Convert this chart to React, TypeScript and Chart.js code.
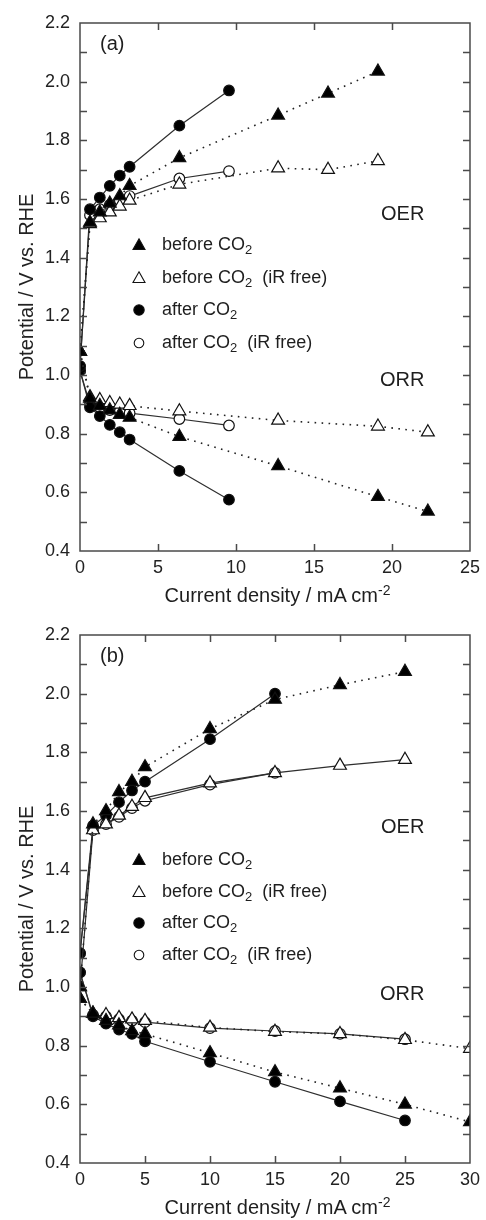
import React, { useEffect, useRef, useState } from "react";
import { Chart, registerables } from "chart.js";
Chart.register(...registerables);

// ---------- Panel (a) data ----------
const aOerBeforeX = [0, 0.64, 1.27, 1.91, 2.55, 3.18, 6.37, 12.7, 15.9, 19.1];
const aOerBeforeY = [1.08, 1.52, 1.555, 1.585, 1.61, 1.645, 1.74, 1.885, 1.96, 2.035];
const aOerBeforeIrY = [1.08, 1.515, 1.535, 1.555, 1.575, 1.595, 1.65, 1.705, 1.7, 1.73];
const aOerAfterX = [0, 0.64, 1.27, 1.91, 2.55, 3.18, 6.37, 9.55];
const aOerAfterY = [1.03, 1.565, 1.605, 1.645, 1.68, 1.71, 1.85, 1.97];
const aOerAfterIrY = [1.03, 1.545, 1.565, 1.58, 1.595, 1.61, 1.67, 1.695];
const aOrrBeforeX = [0, 0.64, 1.27, 1.91, 2.55, 3.18, 6.37, 12.7, 19.1, 22.3];
const aOrrBeforeY = [1.08, 0.92, 0.895, 0.88, 0.865, 0.855, 0.79, 0.69, 0.585, 0.535];
const aOrrBeforeIrY = [1.08, 0.925, 0.915, 0.905, 0.9, 0.895, 0.877, 0.845, 0.825, 0.805];
const aOrrAfterX = [0, 0.64, 1.27, 1.91, 2.55, 3.18, 6.37, 9.55];
const aOrrAfterY = [1.015, 0.89, 0.86, 0.83, 0.805, 0.78, 0.673, 0.575];
const aOrrAfterIrY = [1.015, 0.9, 0.89, 0.88, 0.875, 0.87, 0.85, 0.828];

// ---------- Panel (b) data ----------
const bOerBeforeX = [0, 1, 2, 3, 4, 5, 10, 15, 20, 25];
const bOerBeforeY = [1.0, 1.555, 1.6, 1.665, 1.7, 1.75, 1.88, 1.98, 2.03, 2.075];
const bOerBeforeIrY = [1.0, 1.535, 1.555, 1.585, 1.615, 1.645, 1.695, 1.73, 1.755, 1.775];
const bOerAfterX = [0, 1, 2, 3, 4, 5, 10, 15];
const bOerAfterY = [1.115, 1.55, 1.585, 1.63, 1.67, 1.7, 1.845, 2.0];
const bOerAfterIrY = [1.115, 1.535, 1.555, 1.58, 1.61, 1.635, 1.69, 1.73];
const bOrrBeforeX = [0, 1, 2, 3, 4, 5, 10, 15, 20, 25, 30];
const bOrrBeforeY = [0.96, 0.91, 0.885, 0.87, 0.85, 0.84, 0.775, 0.71, 0.655, 0.6, 0.54];
const bOrrBeforeIrY = [0.96, 0.91, 0.905, 0.895, 0.89, 0.885, 0.862, 0.848, 0.84, 0.82, 0.79];
const bOrrAfterX = [0, 1, 2, 3, 4, 5, 10, 15, 20, 25];
const bOrrAfterY = [1.05, 0.9, 0.875, 0.855, 0.84, 0.815, 0.745, 0.677, 0.61, 0.545];
const bOrrAfterIrY = [1.05, 0.905, 0.9, 0.89, 0.885, 0.88, 0.86, 0.85, 0.84, 0.822];

const yMin = 0.4;
const yMax = 2.2;
const yStep = 0.2;
const yMinorStep = 0.1;
const xStep = 5;
const aXMax = 25;
const bXMax = 30;

const seriesLabels = ["before CO", "before CO", "after CO", "after CO"];
const seriesSuffix = ["", "  (iR free)", "", "  (iR free)"];

const FONT = '"Liberation Sans", Arial, Helvetica, sans-serif';
const DOT = [1.6, 5.4];

type Kind = "before" | "beforeIr" | "after" | "afterIr";

function pts(xs: number[], ys: number[]) {
  return xs.map((x, i) => ({ x, y: ys[i] }));
}

function ds(kind: Kind, xs: number[], ys: number[], dotted: boolean) {
  const tri = kind === "before" || kind === "beforeIr";
  const filled = kind === "before" || kind === "after";
  return {
    data: pts(xs, ys),
    showLine: true,
    borderColor: dotted ? "#222222" : "#2e2e2e",
    borderWidth: dotted ? 1.6 : 1.2,
    borderDash: dotted ? DOT : [],
    borderCapStyle: "butt",
    pointStyle: tri ? "triangle" : "circle",
    pointRadius: tri ? 7.4 : 5.3,
    pointBorderWidth: 1.2,
    pointBorderColor: "#111111",
    pointBackgroundColor: filled ? "#000000" : "#ffffff",
    pointHoverRadius: tri ? 7.4 : 5.3,
    tension: 0,
  };
}

const framePlugin = {
  id: "frameTicks",
  afterDraw(chart: any) {
    const ctx = chart.ctx;
    const a = chart.chartArea;
    const xs = chart.scales.x;
    const ys = chart.scales.y;
    const L = 7;
    ctx.save();
    ctx.strokeStyle = "#4a4a4a";
    ctx.lineWidth = 1.5;
    ctx.beginPath();
    for (let v = yMin + yMinorStep; v < yMax - 1e-6; v += yMinorStep) {
      const p = Math.round(ys.getPixelForValue(v)) + 0.5;
      ctx.moveTo(a.left, p);
      ctx.lineTo(a.left + L, p);
      ctx.moveTo(a.right, p);
      ctx.lineTo(a.right - L, p);
    }
    for (let v = xs.min + xStep; v < xs.max - 1e-6; v += xStep) {
      const p = Math.round(xs.getPixelForValue(v)) + 0.5;
      ctx.moveTo(p, a.bottom);
      ctx.lineTo(p, a.bottom - L);
      ctx.moveTo(p, a.top);
      ctx.lineTo(p, a.top + L);
    }
    ctx.stroke();
    ctx.strokeRect(a.left, a.top, a.right - a.left, a.bottom - a.top);
    ctx.restore();
  },
};

function ChartPanel({ top, xMax, datasets }: { top: number; xMax: number; datasets: any[] }) {
  const ref = useRef<HTMLCanvasElement | null>(null);
  const [err, setErr] = useState("");
  useEffect(() => {
    if (!ref.current) return;
    let chart: any = null;
    try {
      chart = new Chart(ref.current, {
        type: "scatter",
        data: { datasets },
        plugins: [framePlugin],
        options: {
          animation: false,
          responsive: false,
          layout: { padding: { top: 23, right: 11, left: 0, bottom: 19 } },
          plugins: { legend: { display: false }, tooltip: { enabled: false } },
          scales: {
            x: {
              type: "linear",
              min: 0,
              max: xMax,
              grid: { display: false, drawTicks: false },
              border: { display: false },
              ticks: {
                stepSize: xStep,
                padding: 6,
                color: "#222",
                font: { family: FONT, size: 18 },
                maxRotation: 0,
              },
              afterFit: (s: any) => {
                s.height = 30;
              },
            },
            y: {
              type: "linear",
              min: yMin,
              max: yMax,
              grid: { display: false, drawTicks: false },
              border: { display: false },
              ticks: {
                stepSize: yStep,
                padding: 10,
                color: "#222",
                font: { family: FONT, size: 18 },
                callback: (v: any) => Number(v).toFixed(1),
              },
              title: {
                display: true,
                text: "Potential / V vs. RHE",
                color: "#222",
                font: { family: FONT, size: 20 },
                padding: { top: 15, bottom: 0 },
              },
              afterFit: (s: any) => {
                s.width = 80;
              },
            },
          },
        } as any,
      });
    } catch (e: any) {
      setErr(String(e && e.stack ? e.stack : e));
    }
    return () => {
      if (chart) chart.destroy();
    };
  }, []);
  return (
    <div style={{ position: "absolute", left: 0, top, width: 486, height: 600 }}>
      <canvas ref={ref} width={486} height={600} style={{ display: "block" }} />
      {err ? <pre style={{ position: "absolute", left: 0, top: 0, fontSize: 10, whiteSpace: "pre-wrap", width: 480 }}>{err}</pre> : null}
    </div>
  );
}

function Marker({ kind }: { kind: Kind }) {
  const tri = kind === "before" || kind === "beforeIr";
  const filled = kind === "before" || kind === "after";
  return (
    <svg width={16} height={16} style={{ position: "absolute", left: -8, top: -8 }}>
      {tri ? (
        <polygon
          points="8,1.8 14,12.5 2,12.5"
          fill={filled ? "#000" : "#fff"}
          stroke="#111"
          strokeWidth={1.1}
        />
      ) : (
        <circle cx={8} cy={8} r={filled ? 5.2 : 4.8} fill={filled ? "#000" : "#fff"} stroke="#111" strokeWidth={1.1} />
      )}
    </svg>
  );
}

const kinds: Kind[] = ["before", "beforeIr", "after", "afterIr"];

function Overlay({ top, letter, legendRows, oerY, orrY }: { top: number; letter: string; legendRows: number[]; oerY: number; orrY: number }) {
  const base: any = {
    position: "absolute",
    fontFamily: FONT,
    color: "#1e1e1e",
    whiteSpace: "nowrap",
    lineHeight: "22px",
  };
  return (
    <>
      <div style={{ ...base, left: 100, top: top + 32, fontSize: 20 }}>{letter}</div>
      <div style={{ ...base, left: 381, top: top + oerY - 11, fontSize: 20 }}>OER</div>
      <div style={{ ...base, left: 380, top: top + orrY - 11, fontSize: 20 }}>ORR</div>
      {kinds.map((k, i) => (
        <React.Fragment key={k}>
          <div style={{ position: "absolute", left: 139, top: top + legendRows[i], width: 0, height: 0 }}>
            <Marker kind={k} />
          </div>
          <div style={{ ...base, left: 162, top: top + legendRows[i] - 12, fontSize: 18 }}>
            {seriesLabels[i]}
            <sub style={{ fontSize: 13, verticalAlign: "-4px", lineHeight: 0 }}>2</sub>
            {seriesSuffix[i] ? <span style={{ whiteSpace: "pre" }}>{seriesSuffix[i]}</span> : null}
          </div>
        </React.Fragment>
      ))}
      <div style={{ ...base, left: 80, width: 395, textAlign: "center", top: top + 584, fontSize: 20 }}>
        Current density / mA cm<sup style={{ fontSize: 14, verticalAlign: "7px", lineHeight: 0 }}>-2</sup>
      </div>
    </>
  );
}

export default function App() {
  const aSets = [
    ds("before", aOerBeforeX, aOerBeforeY, true),
    ds("before", aOrrBeforeX, aOrrBeforeY, true),
    ds("beforeIr", aOerBeforeX, aOerBeforeIrY, true),
    ds("beforeIr", aOrrBeforeX, aOrrBeforeIrY, true),
    ds("after", aOerAfterX, aOerAfterY, false),
    ds("after", aOrrAfterX, aOrrAfterY, false),
    ds("afterIr", aOerAfterX, aOerAfterIrY, false),
    ds("afterIr", aOrrAfterX, aOrrAfterIrY, false),
  ];
  const bSets = [
    ds("before", bOerBeforeX, bOerBeforeY, true),
    ds("before", bOrrBeforeX, bOrrBeforeY, true),
    ds("beforeIr", bOerBeforeX, bOerBeforeIrY, false),
    ds("beforeIr", bOrrBeforeX, bOrrBeforeIrY, true),
    ds("after", bOerAfterX, bOerAfterY, false),
    ds("after", bOrrAfterX, bOrrAfterY, false),
    ds("afterIr", bOerAfterX, bOerAfterIrY, false),
    ds("afterIr", bOrrAfterX, bOrrAfterIrY, false),
  ];
  return (
    <div style={{ position: "absolute", left: 0, top: 0, width: 486, height: 1220, overflow: "hidden" }}>
      <ChartPanel top={0} xMax={aXMax} datasets={aSets} />
      <Overlay top={0} letter="(a)" legendRows={[245, 278, 310, 343]} oerY={213} orrY={379} />
      <ChartPanel top={612} xMax={bXMax} datasets={bSets} />
      <Overlay top={612} letter="(b)" legendRows={[248, 280, 311, 343]} oerY={214} orrY={381} />
    </div>
  );
}
